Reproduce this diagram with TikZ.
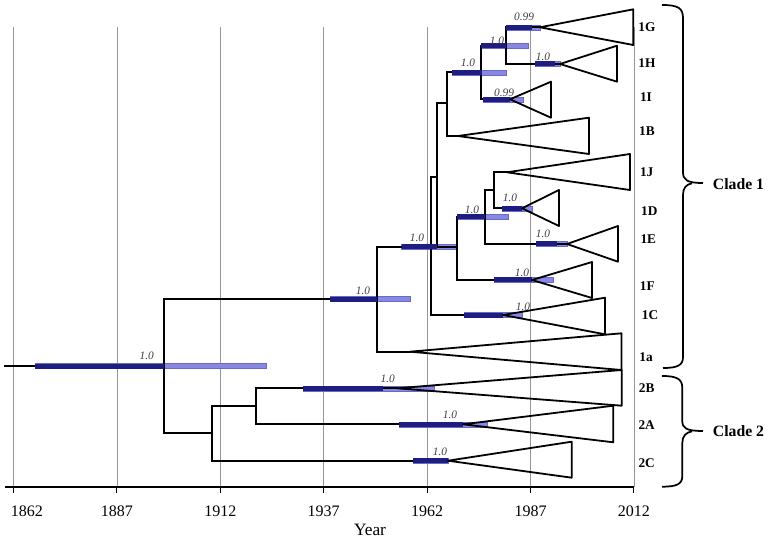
\documentclass[tikz,border=0pt]{standalone}
\usepackage{fontspec}
\setmainfont{Liberation Serif}
\definecolor{hpdlight}{RGB}{136,136,228}
\definecolor{hpdedge}{RGB}{105,105,200}
\definecolor{hpddark}{RGB}{30,30,130}
\definecolor{gridgray}{RGB}{150,150,150}
\begin{document}
\begin{tikzpicture}[x=0.75pt,y=-0.75pt,
  branch/.style={line width=1.5pt,line cap=rect},
  clade/.style={line width=1.35pt,line join=round},
  gridln/.style={gridgray,line width=0.6pt},
  taxon/.style={font=\fontsize{10}{11}\selectfont\bfseries,inner sep=0pt},
  support/.style={font=\fontsize{8.5}{9}\selectfont\itshape,text=black!75,inner sep=0pt},
  yearlbl/.style={font=\fontsize{12}{13}\selectfont,inner sep=0pt},
  cladelbl/.style={font=\fontsize{11.8}{12}\selectfont\bfseries,inner sep=0pt,anchor=west},
  bracestyle/.style={line width=1.3pt}
]
\useasboundingbox (0,0) rectangle (769,542);
\fill[white] (0,0) rectangle (769,542);

% grid and axis
\foreach \i in {0,...,6}{
  \draw[gridln] ({13.5+103.4*\i},27) -- ({13.5+103.4*\i},487);
  \draw[line width=0.8pt] ({13.5+103.4*\i},487) -- ({13.5+103.4*\i},493);
}
\draw[line width=1.1pt] (5,487) -- (634,487);
\foreach \yr [count=\i from 0] in {1862,1887,1912,1937,1962,1987,2012}{
  \ifnum\i=0
    \node[yearlbl] (yr\i) at (27,511) {\yr};
  \else
    \node[yearlbl] (yr\i) at ({13.5+103.4*\i},511) {\yr};
  \fi
}
\node[font=\fontsize{13}{14}\selectfont,inner sep=0pt] (xlab) at (370,530) {Year};

% node coordinates
\coordinate (stem) at (5,366);
\coordinate (R) at (164,366);
\coordinate (C1) at (376.7,299);
\coordinate (C2) at (211.7,433);
\coordinate (E) at (457,246.7);
\coordinate (Q) at (436.7,177);
\coordinate (P) at (430.7,177);
\coordinate (G4) at (447.3,103.3);
\coordinate (G3) at (481,72.3);
\coordinate (G2) at (506,45.7);
\coordinate (F2) at (485,216.7);
\coordinate (F1) at (494,190);
\coordinate (H) at (256,405.7);
% tip apices
\coordinate (t1G) at (540,27.3);
\coordinate (t1H) at (560,64);
\coordinate (t1I) at (510,99.3);
\coordinate (t1B) at (458,136);
\coordinate (t1J) at (507,172.3);
\coordinate (t1D) at (522,208.3);
\coordinate (t1E) at (567,244);
\coordinate (t1F) at (532,280);
\coordinate (t1C) at (503,315);
\coordinate (t1a) at (410,351.7);
\coordinate (t2B) at (397,388.3);
\coordinate (t2A) at (463,424.3);
\coordinate (t2C) at (448,460.7);

% HPD bars (light part)
\def\bars{366/35/164/266/146.7/356/1.0,
  299/330/376.7/410.7/363/290.7/1.0,
  246.7/401.7/436.7/457/417/238/1.0,
  27.3/506/532/540/524/17/0.99,
  64/535/555/560/543/57/1.0,
  45.7/481/506/528/497/40.7/1.0,
  99.3/483/510/523/504/92.7/0.99,
  72.3/452/482/506/468/63/1.0,
  208.3/502/522/532/510/197.7/1.0,
  244/536/557/567/543/234/1.0,
  216.7/457/485/508/472/210/1.0,
  280/494/532/553/522/273/1.0,
  315/464/503/522/523/306.7/1.0,
  388.3/303/383/434/387.7/379.3/1.0,
  424.3/399/463/487/450/415/1.0,
  460.7/413/448/448/440/451.7/1.0}
\foreach \yy/\ds/\de/\le/\lx/\ly/\tx in \bars{
  \filldraw[fill=hpdlight,draw=hpdedge,line width=0.4pt] ({\ds},{\yy-2.5}) rectangle ({\le},{\yy+2.5});
}

% branches
\draw[branch] (stem) -- (R);
\draw[branch] (R) |- (C1);
\draw[branch] (R) |- (C2);
\draw[branch] (C1) |- (E);
\draw[branch] (C1) |- (t1a);
\draw[branch] (Q) |- (G4);
\draw[branch] (Q) -- (Q |- E);
\draw[branch] (Q) -- (P);
\draw[branch] (P) |- (t1C);
\draw[branch] (G4) |- (G3);
\draw[branch] (G4) |- (t1B);
\draw[branch] (G3) |- (G2);
\draw[branch] (G3) |- (t1I);
\draw[branch] (G2) |- (t1G);
\draw[branch] (G2) |- (t1H);
\draw[branch] (E) |- (F2);
\draw[branch] (E) |- (t1F);
\draw[branch] (F2) |- (F1);
\draw[branch] (F2) |- (t1E);
\draw[branch] (F1) |- (t1J);
\draw[branch] (F1) |- (t1D);
\draw[branch] (C2) |- (H);
\draw[branch] (C2) |- (t2C);
\draw[branch] (H) |- (t2B);
\draw[branch] (H) |- (t2A);

% HPD bars (dark part) and support labels
\foreach \yy/\ds/\de/\le/\lx/\ly/\tx in \bars{
  \fill[hpddark] ({\ds},{\yy-2.5}) rectangle ({\de},{\yy+2.5});
  \node[support] at (\lx,\ly) {\tx};
}

% collapsed clades
\draw[clade] (t1G) -- (633.3,9.3) -- (633.3,45) -- cycle;
\draw[clade] (t1H) -- (617,45.7) -- (617,81.7) -- cycle;
\draw[clade] (t1I) -- (551,81.7) -- (551,117.7) -- cycle;
\draw[clade] (t1B) -- (589,117.7) -- (589,154) -- cycle;
\draw[clade] (t1J) -- (630,154) -- (630,190) -- cycle;
\draw[clade] (t1D) -- (559,190) -- (559,226) -- cycle;
\draw[clade] (t1E) -- (618,226) -- (618,261.7) -- cycle;
\draw[clade] (t1F) -- (592,262) -- (592,298) -- cycle;
\draw[clade] (t1C) -- (605,297.7) -- (605,334.3) -- cycle;
\draw[clade] (t1a) -- (621.5,333.3) -- (621.5,370) -- cycle;
\draw[clade] (t2B) -- (621.7,370) -- (621.7,405.7) -- cycle;
\draw[clade] (t2A) -- (613.3,405.7) -- (613.3,442.3) -- cycle;
\draw[clade] (t2C) -- (571.7,441.7) -- (571.7,477.7) -- cycle;

% taxon labels
\node[taxon] (l1G) at (647,26.7) {1G};
\node[taxon] (l1H) at (647,62.7) {1H};
\node[taxon] (l1I) at (646,96.7) {1I};
\node[taxon] (l1B) at (647,130.7) {1B};
\node[taxon] (l1J) at (646.7,172.3) {1J};
\node[taxon] (l1D) at (649.3,210.7) {1D};
\node[taxon] (l1E) at (648.3,239.3) {1E};
\node[taxon] (l1F) at (647.3,286) {1F};
\node[taxon] (l1C) at (650,315) {1C};
\node[taxon] (l1a) at (646,356.7) {1a};
\node[taxon] (l2B) at (646.7,387.7) {2B};
\node[taxon] (l2A) at (646.7,425) {2A};
\node[taxon] (l2C) at (646.7,463.3) {2C};

% braces and clade labels
\draw[bracestyle] (662,5) .. controls (678,5) and (683,8) .. (683,18) -- (683,172) .. controls (683,180) and (687,183) .. (703,183);
\draw[bracestyle] (692,183.3) .. controls (686,184.5) and (683,188) .. (683,195) -- (683,357) .. controls (683,365) and (678,368) .. (663,368);
\node[cladelbl] (cl1) at (712.7,184) {Clade 1};
\draw[bracestyle] (662,376) .. controls (677,376) and (682.3,379) .. (682.3,388) -- (682.3,421) .. controls (682.3,428) and (686,431) .. (703,431);
\draw[bracestyle] (692,431.3) .. controls (686,432.5) and (682.3,436) .. (682.3,443) -- (682.3,476) .. controls (682.3,484) and (677,486.7) .. (662,486.7);
\node[cladelbl] (cl2) at (712.7,431) {Clade 2};
\end{tikzpicture}
\end{document}
